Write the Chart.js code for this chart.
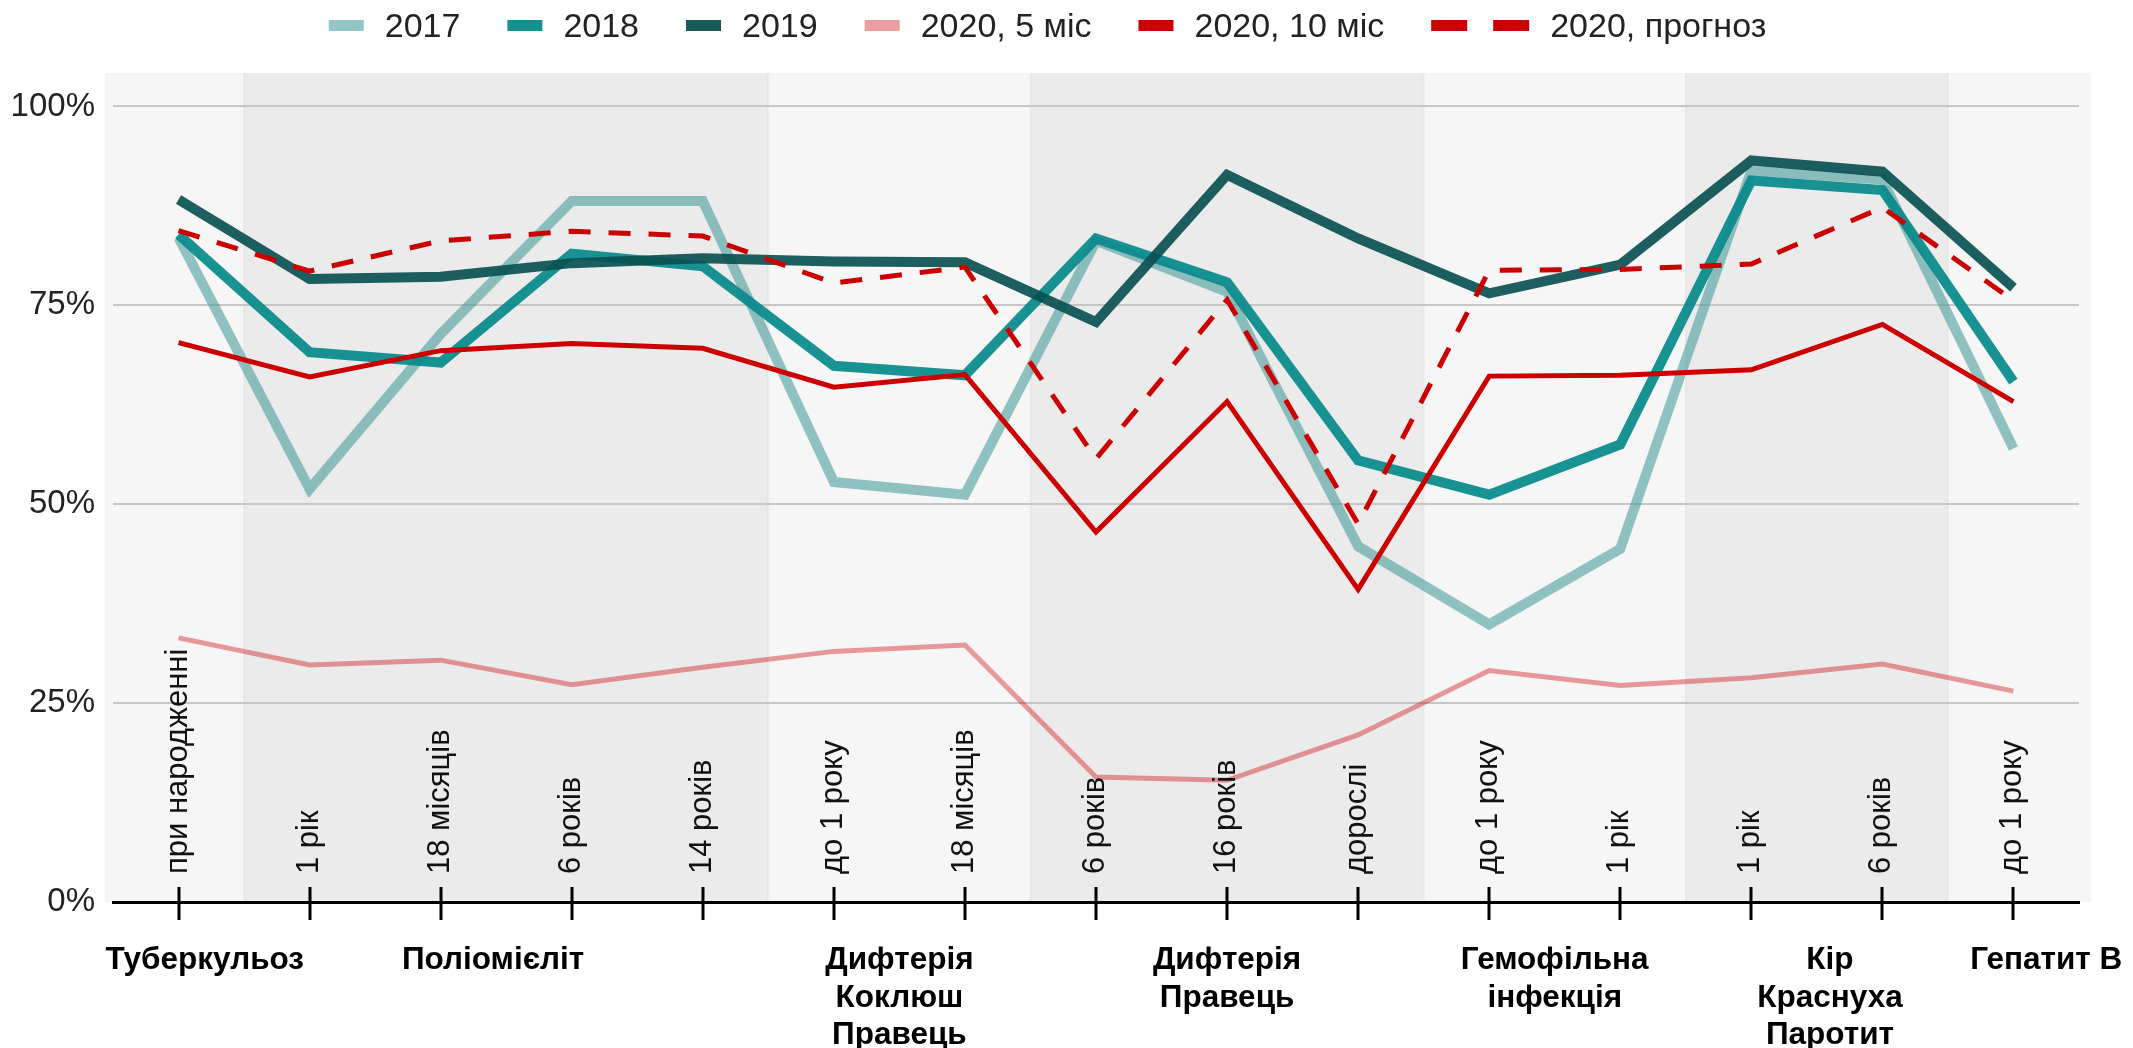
<!DOCTYPE html>
<html lang="uk">
<head>
<meta charset="utf-8">
<title>Охоплення щепленнями, 2017–2020</title>
<script src="https://cdn.jsdelivr.net/npm/chart.js@4.4.1/dist/chart.umd.min.js"></script>
<style>
  html, body { margin: 0; padding: 0; background: #fff; }
  #wrap { width: 2133px; height: 1048px; position: relative; }
</style>
</head>
<body>
<div id="wrap"><canvas id="chart"></canvas></div>
<script>
const FONT = "'Liberation Sans', Arial, sans-serif";

// вікові групи (підписи осі X)
const categories = [
  "при народженні", "1 рік", "18 місяців", "6 років", "14 років",
  "до 1 року", "18 місяців", "6 років", "16 років", "дорослі",
  "до 1 року", "1 рік", "1 рік", "6 років", "до 1 року"
];

// хвороби: назва, кількість вікових груп, позиція підпису (в індексах категорій)
const groupNames = [
  ["Туберкульоз"],
  ["Поліомієліт"],
  ["Дифтерія", "Коклюш", "Правець"],
  ["Дифтерія", "Правець"],
  ["Гемофільна", "інфекція"],
  ["Кір", "Краснуха", "Паротит"],
  ["Гепатит В"]
];
const groupSizes = [1, 4, 2, 3, 2, 2, 1];
const groupLabelPos = [0.2, 2.4, 5.5, 8, 10.5, 12.6, 14.25];

// охоплення, %
const cov2017 = [83.5, 51.9, 71.4, 88.1, 88.1, 52.8, 51.2, 83.1, 76.7, 44.7, 34.9, 44.4, 91.9, 90.8, 57.0];
const cov2018 = [83.9, 69.1, 67.8, 81.5, 79.9, 67.4, 66.2, 83.4, 77.9, 55.5, 51.2, 57.5, 90.7, 89.5, 65.4];
const cov2019 = [88.3, 78.3, 78.6, 80.3, 80.9, 80.5, 80.4, 72.9, 91.4, 83.4, 76.5, 80.1, 93.2, 91.8, 77.2];
const cov2020m5 = [33.2, 29.8, 30.4, 27.3, 29.5, 31.5, 32.3, 15.7, 15.3, 21.0, 29.1, 27.2, 28.2, 29.9, 26.5];
const cov2020m10 = [70.3, 66.0, 69.3, 70.2, 69.6, 64.7, 66.3, 46.5, 62.9, 39.3, 66.1, 66.2, 66.9, 72.6, 62.9];
const cov2020forecast = [84.4, 79.3, 83.1, 84.3, 83.7, 77.8, 79.8, 55.7, 75.7, 47.5, 79.4, 79.5, 80.2, 87.3, 75.6];

const yTicks = [0, 25, 50, 75, 100];

// фон-смуги, підписи осі X, групи хвороб, легенда
const decor = {
  id: "decor",
  beforeDraw(chart) {
    const { ctx, chartArea: a, scales: { x } } = chart;
    ctx.save();
    let start = 0;
    groupSizes.forEach((n, g) => {
      const end = start + n;
      let x0 = x.getPixelForValue(start - 0.5);
      let x1 = x.getPixelForValue(end - 0.5);
      if (g === 0) x0 = a.left - 8;
      if (g === groupSizes.length - 1) x1 = a.right + 12;
      ctx.fillStyle = g % 2 ? "#ebebeb" : "#f6f6f6";
      ctx.fillRect(x0, a.top, x1 - x0, a.bottom - a.top);
      if (g > 0) {
        ctx.fillStyle = "rgba(0,0,0,0.035)";
        ctx.fillRect(x0 - 1, a.top, 2, a.bottom - a.top);
      }
      start = end;
    });
    ctx.restore();
  },
  afterDatasetsDraw(chart) {
    const { ctx, chartArea: a, scales: { x } } = chart;
    ctx.save();
    // риски
    ctx.fillStyle = "#000";
    categories.forEach((_, i) => {
      const px = x.getPixelForValue(i);
      ctx.fillRect(Math.round(px) - 1.5, a.bottom - 15, 3, 33);
    });
    // вертикальні підписи
    ctx.font = "31px " + FONT;
    ctx.fillStyle = "#111";
    ctx.textAlign = "left";
    ctx.textBaseline = "alphabetic";
    categories.forEach((lab, i) => {
      const px = x.getPixelForValue(i);
      ctx.save();
      ctx.translate(px, a.bottom - 28);
      ctx.rotate(-Math.PI / 2);
      ctx.fillText(lab, 0, 8);
      ctx.restore();
    });
    // назви хвороб
    ctx.font = "bold 31.5px " + FONT;
    ctx.fillStyle = "#000";
    ctx.textAlign = "center";
    groupNames.forEach((lines, g) => {
      const px = x.getPixelForValue(groupLabelPos[g]);
      lines.forEach((t, k) => ctx.fillText(t, px, a.bottom + 67 + k * 37.5));
    });
    ctx.restore();
  },
  afterDraw(chart) {
    const { ctx } = chart;
    const ds = chart.data.datasets;
    ctx.save();
    ctx.font = "34px " + FONT;
    const items = ds.map(d => {
      const mark = d.borderDash ? 98 : 35;
      return { d, mark, w: mark + 21 + ctx.measureText(d.label).width };
    });
    const total = items.reduce((s, it) => s + it.w, 0) + 47 * (items.length - 1);
    let cx = (chart.width - total) / 2 - 19;
    items.forEach(it => {
      ctx.fillStyle = it.d.legendColor;
      if (it.d.borderDash) {
        ctx.fillRect(cx, 20, 36, 11);
        ctx.fillRect(cx + 62, 20, 36, 11);
      } else {
        ctx.fillRect(cx, 20, 35, 11);
      }
      ctx.fillStyle = "#222";
      ctx.textAlign = "left";
      ctx.textBaseline = "alphabetic";
      ctx.fillText(it.d.label, cx + it.mark + 21, 37);
      cx += it.w + 47;
    });
    ctx.restore();
  }
};

function line(label, data, color, legendColor, width, order, dash) {
  const d = {
    label, data, order,
    borderColor: color,
    legendColor,
    borderWidth: width,
    pointRadius: 0,
    pointHoverRadius: 0,
    fill: false,
    tension: 0
  };
  if (dash) d.borderDash = dash;
  return d;
}

new Chart(document.getElementById("chart"), {
  type: "line",
  data: {
    labels: categories,
    datasets: [
      line("2017", cov2017, "rgba(60,150,150,0.55)", "#93c5c5", 10, 6),
      line("2018", cov2018, "rgba(8,138,140,0.93)", "#16908f", 10, 5),
      line("2019", cov2019, "rgba(10,80,82,0.92)", "#185a5a", 10, 4),
      line("2020, 5 міс", cov2020m5, "rgba(204,0,0,0.38)", "#eb9e9e", 5, 3),
      line("2020, 10 міс", cov2020m10, "#cc0000", "#cc0000", 5, 2),
      line("2020, прогноз", cov2020forecast, "#cc0000", "#cc0000", 5, 1, [22, 18])
    ]
  },
  options: {
    responsive: true,
    maintainAspectRatio: false,
    animation: false,
    events: [],
    layout: { padding: { top: 73, left: 13, right: 54, bottom: 146 } },
    plugins: {
      legend: { display: false },
      tooltip: { enabled: false }
    },
    scales: {
      x: {
        offset: true,
        grid: { display: false, drawTicks: false },
        border: { display: true, color: "#000", width: 3 },
        ticks: { display: false }
      },
      y: {
        min: 0,
        max: 104.2,
        afterBuildTicks: s => { s.ticks = yTicks.map(v => ({ value: v })); },
        afterFit: s => { s.width = 100; },
        grid: {
          drawTicks: false,
          lineWidth: 2,
          color: c => (c.tick && c.tick.value === 0 ? "rgba(0,0,0,0)" : "#c6c6c6")
        },
        border: { display: false },
        ticks: {
          padding: 18,
          color: "#222",
          font: { family: FONT, size: 33 },
          callback: v => v + "%"
        }
      }
    }
  },
  plugins: [decor]
});
</script>
</body>
</html>
